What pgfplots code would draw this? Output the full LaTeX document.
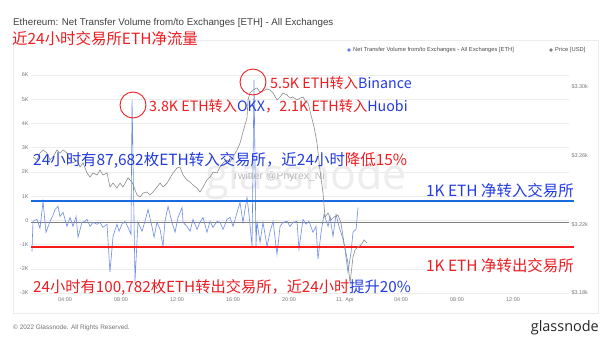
\documentclass[border=0pt]{standalone}
\usepackage{pgfplots}
\pgfplotsset{compat=1.18}
\usepackage{fontspec}
\setmainfont{Liberation Sans}
\newfontfamily\cjk{Noto Sans CJK SC}
\newfontfamily\logofont{Open Sans}
\definecolor{flowblue}{RGB}{110,140,232}
\definecolor{pricegray}{RGB}{140,140,140}
\definecolor{refblue}{RGB}{25,105,225}
\definecolor{refred}{RGB}{245,25,25}
\definecolor{txtred}{RGB}{235,30,35}
\definecolor{txtblue}{RGB}{35,60,225}
\definecolor{gridgray}{RGB}{236,236,236}
\definecolor{lblgray}{RGB}{120,120,120}
\begin{document}
\begin{tikzpicture}[x=1bp,y=1bp]
\useasboundingbox (0,0) rectangle (612,344);
\fill[white] (0,0) rectangle (612,344);
\draw[gray!15, line width=0.6] (13,31) rectangle (598,304);
% title
\node[anchor=west, inner sep=0, text=black!75] at (13,321.5) {\fontsize{9.8}{11}\selectfont Ethereum: Net Transfer Volume from/to Exchanges [ETH] - All Exchanges};
\node[anchor=west, inner sep=0, text=txtred] at (12,305.5) {\cjk\fontsize{15.5}{18}\selectfont 近24小时交易所ETH净流量};
% legend
\fill[flowblue!90!blue] (349,294) circle (1.8);
\node[anchor=west, inner sep=0, text=black!70] at (353,294) {\fontsize{5.8}{7}\selectfont Net Transfer Volume from/to Exchanges - All Exchanges [ETH]};
\fill[gray] (551,294) circle (1.8);
\node[anchor=west, inner sep=0, text=black!70] at (555,294) {\fontsize{5.8}{7}\selectfont Price [USD]};
% watermark
\node[text=black!7, inner sep=0] at (306,166) {\logofont\fontsize{43}{46}\selectfont glassnode};
\node[anchor=west, text=black!28, inner sep=0] at (232,167) {\fontsize{10.5}{12}\selectfont Twitter @Phyrex\_Ni};

\begin{axis}[
  at={(31bp,51bp)}, anchor=south west, scale only axis,
  width=538bp, height=230bp,
  xmin=1.57, xmax=40, ymin=-3, ymax=6.5,
  axis line style={draw=none}, tick style={draw=none},
  ytick={-3,-2,-1,0,1,2,3,4,5,6},
  yticklabels={-3K,-2K,-1K,0,1K,2K,3K,4K,5K,6K},
  xtick={4,8,12,16,20,24,28,32,36},
  xticklabels={04:00,08:00,12:00,16:00,20:00,11. Apr,04:00,08:00,12:00},
  ymajorgrids, grid style={gridgray, line width=0.5},
  /pgf/number format/assume math mode=true,
  ticklabel style={font=\fontsize{5.5}{6}\selectfont, text=lblgray},
  yticklabel style={xshift=1bp},
  xticklabel style={yshift=-1bp},
  clip=false,
]
% zero line
\addplot[black!50, line width=1.5] coordinates {(1.57,-0.08) (40,-0.08)};
% net flow
\addplot[flowblue, line width=0.6] coordinates {
(1.64,-1.28) (1.71,-0.04) (2.0,0.04) (2.21,-0.33) (2.43,0.78) (2.64,-0.49) (2.93,-0.04)
(3.14,0.21) (3.29,0.45) (3.5,0.58) (3.64,0.16) (3.86,0.33) (4.14,-0.25) (4.36,0.12)
(4.57,-0.25) (4.79,0.16) (4.93,-0.70) (5.21,-0.08) (5.43,-0.04) (5.57,0.04) (5.79,-0.25)
(6.0,-0.08) (6.29,-0.16) (6.5,-0.08) (6.71,-0.29) (7.0,-0.16) (7.21,-2.14) (7.43,-0.66)
(7.71,-0.16) (7.86,-0.45) (8.07,-0.16) (8.29,-0.04) (8.5,-0.29) (8.71,-0.58) (8.79,4.98)
(9.0,-2.51) (9.21,-0.08) (9.5,-0.45) (9.71,-0.04) (9.93,0.45) (10.21,-0.25) (10.36,-0.70)
(10.57,-0.08) (10.79,-0.37) (11.0,-1.07) (11.14,-0.04) (11.36,0.58) (11.64,-0.08) (11.86,-0.49)
(12.07,0.12) (12.36,0.53) (12.43,-0.08) (12.71,-0.25) (12.93,-0.45) (13.14,0.04) (13.43,-0.37)
(13.64,-0.08) (13.86,0.12) (14.14,-0.49) (14.36,-0.04) (14.57,-0.29) (14.86,-0.04) (15.07,-0.08)
(15.29,-0.37) (15.57,0.04) (15.79,0.12) (16.0,-0.25) (16.29,0.33) (16.5,0.74) (16.71,-0.08)
(17.0,0.95) (17.14,0.25) (17.36,-1.07) (17.5,5.80) (17.64,-1.11) (17.71,-0.04) (17.93,-0.91)
(18.14,-0.08) (18.43,-1.07) (18.64,-0.49) (18.86,-0.04) (19.14,-1.40) (19.36,-0.25) (19.57,-0.08)
(19.86,-0.04) (20.07,-0.25) (20.29,-0.08) (20.57,-0.04) (20.71,-1.19) (21.0,0.04) (21.21,-0.16)
(21.43,-0.04) (21.71,-0.49) (21.93,-0.25) (22.07,-1.60) (22.29,-0.49) (22.5,0.25) (22.79,-0.25)
(22.93,0.16) (23.14,-0.66) (23.36,0.25) (23.57,-0.25) (23.86,-0.78) (24.0,-1.19) (24.21,-2.14)
(24.43,-1.32) (24.57,-0.49) (24.79,-0.37) (24.93,0.53)
};
% reference lines
\addplot[refblue, line width=2] coordinates {(1.57,0.82) (40.36,0.82)};
\addplot[refred, line width=2] coordinates {(1.57,-1.11) (40.36,-1.11)};
\end{axis}

\begin{axis}[
  at={(31bp,51bp)}, anchor=south west, scale only axis,
  width=538bp, height=230bp,
  xmin=1.57, xmax=40, ymin=3.18, ymax=3.3139,
  axis y line*=right, axis x line=none,
  axis line style={draw=none}, tick style={draw=none},
  ytick={3.18,3.22,3.26,3.30},
  yticklabels={\$3.18k,\$3.22k,\$3.26k,\$3.30k},
  /pgf/number format/assume math mode=true,
  ticklabel style={font=\fontsize{5.5}{6}\selectfont, text=lblgray},
  yticklabel style={xshift=-1bp},
]
\addplot[pricegray, line width=0.6] coordinates {
(1.71,3.2592) (2.0,3.2574) (2.21,3.2615) (2.43,3.2633) (2.71,3.2615) (2.93,3.2574) (3.14,3.2592)
(3.43,3.2633) (3.64,3.2615) (3.86,3.2633) (4.14,3.2615) (4.36,3.2574) (4.57,3.2557) (4.86,3.2574)
(5.07,3.2534) (5.29,3.2557) (5.57,3.2499) (5.79,3.2475) (6.0,3.2499) (6.29,3.2487) (6.5,3.2516)
(6.71,3.2487) (7.0,3.2499) (7.21,3.2417) (7.43,3.2440) (7.71,3.2411) (7.93,3.2440) (8.14,3.2417)
(8.5,3.2470) (8.79,3.2446) (9.14,3.2371) (9.36,3.2359) (9.57,3.2382) (9.86,3.2388) (10.07,3.2371)
(10.29,3.2388) (10.57,3.2417) (10.79,3.2440) (11.0,3.2417) (11.29,3.2440) (11.5,3.2470) (11.71,3.2499)
(12.0,3.2528) (12.21,3.2534) (12.43,3.2487) (12.71,3.2458) (12.93,3.2446) (13.14,3.2429) (13.43,3.2411)
(13.64,3.2388) (13.86,3.2417) (14.14,3.2458) (14.36,3.2475) (14.57,3.2504) (14.86,3.2499) (15.07,3.2534)
(15.29,3.2557) (15.57,3.2574) (15.79,3.2563) (16.0,3.2592) (16.29,3.2633) (16.5,3.2673) (16.71,3.2737)
(17.0,3.2819) (17.07,3.2924) (17.21,3.2964) (17.43,3.2982) (17.71,3.2994) (17.93,3.2970) (18.14,3.2976)
(18.43,3.2988) (18.64,3.2982) (18.86,3.2964) (19.14,3.2924) (19.36,3.2941) (19.57,3.2964) (19.86,3.2953)
(20.07,3.2935) (20.29,3.2941) (20.57,3.2924) (20.79,3.2935) (21.0,3.2941) (21.21,3.2912) (21.36,3.2906)
(21.57,3.2836) (21.79,3.2766) (22.0,3.2673) (22.21,3.2516) (22.43,3.2382) (22.57,3.2242) (22.79,3.2266)
(23.0,3.2225) (23.21,3.2242) (23.5,3.2254) (23.71,3.2208) (23.93,3.2091) (24.21,3.1975) (24.36,3.1858)
(24.57,3.2010) (24.71,3.2050) (24.93,3.2068) (25.14,3.2079) (25.36,3.2109) (25.57,3.2091)
};
\end{axis}

% annotations
\draw[txtred, line width=0.9] (133,239) circle (13);
\draw[txtred, line width=0.9] (253,262) circle (13);
\node[anchor=west, inner sep=0] at (270,261) {\cjk\fontsize{14.3}{17}\selectfont\color{txtred}5.5K ETH转入\color{txtblue}Binance};
\node[anchor=west, inner sep=0] at (149,238) {\cjk\fontsize{14.3}{17}\selectfont\color{txtred}3.8K ETH转入\color{txtblue}OKX\color{txtred}，2.1K ETH转入\color{txtblue}Huobi};
\node[anchor=west, inner sep=0] at (33,184) {\cjk\fontsize{15.5}{18}\selectfont\color{txtblue}24小时有87,682枚ETH转入交易所，近24小时\color{txtred}降低15\%};
\node[anchor=east, inner sep=0] at (574,153) {\cjk\fontsize{15.5}{18}\selectfont\color{txtblue}1K ETH 净转入交易所};
\node[anchor=east, inner sep=0] at (574,78) {\cjk\fontsize{15.5}{18}\selectfont\color{txtred}1K ETH 净转出交易所};
\node[anchor=west, inner sep=0] at (33,57) {\cjk\fontsize{15.3}{18}\selectfont\color{txtred}24小时有100,782枚ETH转出交易所，近24小时\color{txtblue}提升20\%};
% footer
\node[anchor=west, inner sep=0, text=black!55] at (13,16) {\fontsize{6.5}{8}\selectfont © 2022 Glassnode. All Rights Reserved.};
\node[anchor=east, inner sep=0, text=black!85] at (599,16) {\logofont\fontsize{14.5}{17}\selectfont glassnode};
\end{tikzpicture}
\end{document}
